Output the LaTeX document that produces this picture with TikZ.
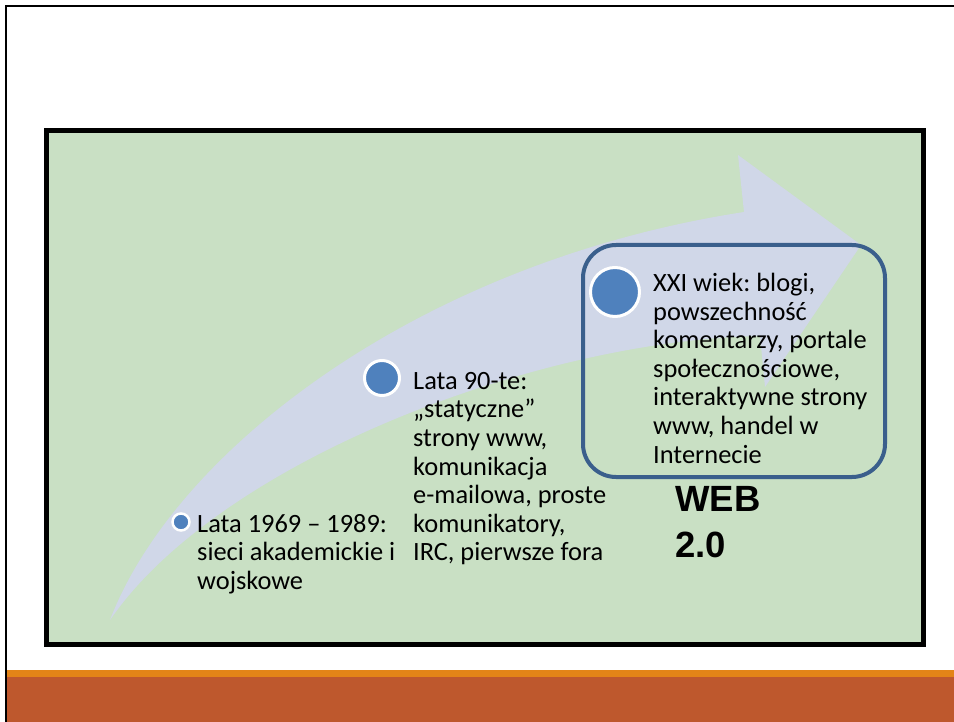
\documentclass[tikz,border=0pt]{standalone}
\usepackage{fontspec}
\setmainfont{Carlito}
\newfontfamily\arialfont{Liberation Sans}
\frenchspacing

\definecolor{slideOrange}{RGB}{227,132,23}
\definecolor{slideBrown}{RGB}{190,88,45}
\definecolor{panelGreen}{RGB}{201,224,196}
\definecolor{arrowLilac}{RGB}{208,215,232}
\definecolor{boxBlue}{RGB}{58,95,140}
\definecolor{dotBlue}{RGB}{79,129,189}

\tikzset{
	milestone/.style={circle, draw=white, fill=dotBlue, inner sep=0pt, line width=3pt},
	stagetext/.style={anchor=north west, inner sep=0pt, align=left,
		font=\fontsize{26.4}{28.6}\selectfont}
}

\begin{document}
\begin{tikzpicture}[x=1pt,y=-1pt]

\useasboundingbox (0,0) rectangle (954,722);
\fill[white] (0,0) rectangle (954,722);

% Footer bands
\fill[slideOrange] (7,670) rectangle (954,677);
\fill[slideBrown] (7,677) rectangle (954,722);

% Slide frame
\draw[line width=2pt] (6,722) -- (6,6) -- (954,6);

% Green panel
\node[draw,
	line width=5pt,
	fill=panelGreen,
	inner sep=0pt,
	minimum width=877pt,
	minimum height=514pt
] (panel) at (485,387.5) {};

% Rising arrow
\fill[arrowLilac] (110,620) .. controls (175,450) and (420,262) .. (744,212)
	-- (738,155) -- (861,245) -- (765,387) -- (760,336)
	.. controls (540,340) and (220,460) .. (110,620) -- cycle;

% Web 2.0 frame
\node[draw=boxBlue,
	line width=4pt,
	rounded corners=33pt,
	minimum width=302pt,
	minimum height=232pt
] (eraBox) at (734,361) {};

% Milestones
\node[milestone, minimum size=17pt, line width=2.5pt] (dotEarly) at (181,522) {};
\node[milestone, minimum size=35pt] (dotNineties) at (382,378) {};
\node[milestone, minimum size=49pt] (dotModern) at (615,292) {};

% Stage texts
\node[stagetext] (stageEarly) at (197,514)
	{Lata 1969 – 1989:\\sieci akademickie i\\wojskowe};
\node[stagetext] (stageNineties) at (413,372)
	{Lata 90-te:\\„statyczne”\\strony www,\\komunikacja\\e-mailowa, proste\\komunikatory,\\IRC, pierwsze fora};
\node[stagetext] (stageModern) at (653,273)
	{XXI wiek: blogi,\\powszechność\\komentarzy, portale\\społecznościowe,\\interaktywne strony\\www, handel w\\Internecie};

\node[anchor=north west,
	inner sep=0pt,
	align=left,
	font=\arialfont\bfseries\fontsize{36.5}{46}\selectfont
] (webLabel) at (675,486) {WEB\\2.0};

\end{tikzpicture}
\end{document}
